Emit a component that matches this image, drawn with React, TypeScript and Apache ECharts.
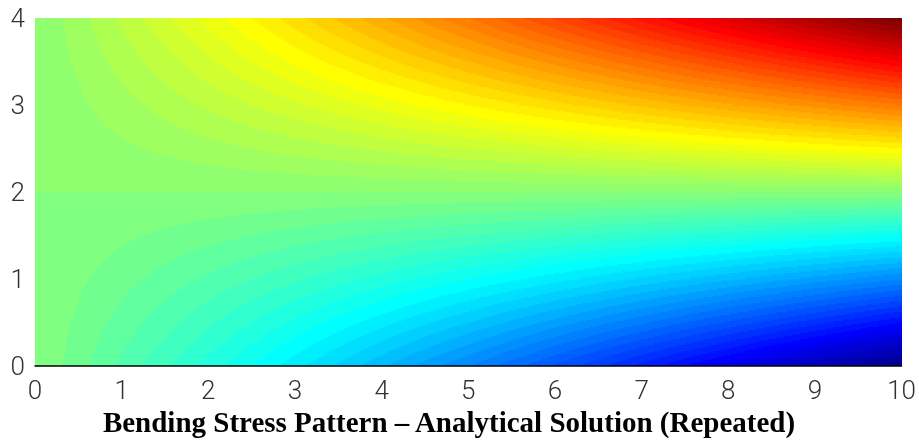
import React, { useEffect, useRef } from "react";
import * as echarts from "echarts";

// Grid nodes (beam length x, beam depth y) and stress values
const X_NODES = [0, 1, 2, 3, 4, 5, 6, 7, 8, 9, 10];
const Y_NODES = [0, 1, 2, 3, 4];
// rows: y = 0, 1, 2, 3, 4 ; columns: x = 0..10
const STRESS_Y0 = [0, -2, -4, -6, -8, -10, -12, -14, -16, -18, -20];
const STRESS_Y1 = [0, -1, -2, -3, -4, -5, -6, -7, -8, -9, -10];
const STRESS_Y2 = [0, 0, 0, 0, 0, 0, 0, 0, 0, 0, 0];
const STRESS_Y3 = [0, 1, 2, 3, 4, 5, 6, 7, 8, 9, 10];
const STRESS_Y4 = [0, 2, 4, 6, 8, 10, 12, 14, 16, 18, 20];
const STRESS = [STRESS_Y0, STRESS_Y1, STRESS_Y2, STRESS_Y3, STRESS_Y4];

const X_TICKS = ["0", "1", "2", "3", "4", "5", "6", "7", "8", "9", "10"];
const Y_TICKS = ["0", "1", "2", "3", "4"];
const TITLE = "Bending Stress Pattern \u2013 Analytical Solution (Repeated)";

const V_MIN = -20;
const V_MAX = 20;
const N_LEVELS = 64;

function jet64(k: number): string {
  const n = k + 1;
  let r = 0, g = 0, b = 0;
  if (n <= 24) r = 0; else if (n <= 40) r = (n - 24) / 16; else if (n <= 56) r = 1; else r = 1 - (n - 56) / 16;
  if (n <= 8) g = 0; else if (n <= 24) g = (n - 8) / 16; else if (n <= 40) g = 1; else if (n <= 56) g = 1 - (n - 40) / 16; else g = 0;
  if (n <= 8) b = (n + 8) / 16; else if (n <= 24) b = 1; else if (n <= 40) b = 1 - (n - 24) / 16; else b = 0;
  const c = (v: number) => Math.round(Math.max(0, Math.min(1, v)) * 255);
  return `rgb(${c(r)},${c(g)},${c(b)})`;
}
const PALETTE = Array.from({ length: N_LEVELS }, (_, k) => jet64(k));

function levelOf(v: number): number {
  let idx = Math.floor(((v - V_MIN) / (V_MAX - V_MIN)) * N_LEVELS);
  if (idx < 0) idx = 0;
  if (idx > N_LEVELS - 1) idx = N_LEVELS - 1;
  return idx;
}

export default function App() {
  const ref = useRef<HTMLDivElement>(null);
  useEffect(() => {
    if (!ref.current) return;
    const chart = echarts.init(ref.current, null, { renderer: "svg" });

    const cells: number[][] = [];
    for (let j = 0; j < Y_NODES.length - 1; j++) {
      for (let i = 0; i < X_NODES.length - 1; i++) {
        cells.push([
          X_NODES[i], Y_NODES[j], X_NODES[i + 1], Y_NODES[j + 1],
          STRESS[j][i], STRESS[j][i + 1], STRESS[j + 1][i], STRESS[j + 1][i + 1],
        ]);
      }
    }

    const renderItem = (params: any, api: any) => {
      const x0 = api.value(0), y0 = api.value(1), x1 = api.value(2), y1 = api.value(3);
      const vBL = api.value(4), vBR = api.value(5), vTL = api.value(6), vTR = api.value(7);
      const pBL = api.coord([x0, y0]);
      const pTR = api.coord([x1, y1]);
      const left = pBL[0], right = pTR[0], top = pTR[1], bottom = pBL[1];
      const w = right - left, h = bottom - top;
      const nRows = Math.max(1, Math.round(h / 1.5));
      const nCols = Math.max(1, Math.round(w));
      const rh = h / nRows, cw = w / nCols;
      const children: any[] = [];
      for (let r = 0; r < nRows; r++) {
        const yTop = top + r * rh;
        const t = (bottom - (yTop + rh / 2)) / h;
        const vl = vBL + (vTL - vBL) * t;
        const vr = vBR + (vTR - vBR) * t;
        let runStart = 0;
        let runLvl = levelOf(vl + (vr - vl) * (0.5 / nCols));
        for (let c = 1; c <= nCols; c++) {
          const lvl = c < nCols ? levelOf(vl + (vr - vl) * ((c + 0.5) / nCols)) : -1;
          if (lvl !== runLvl) {
            children.push({
              type: "rect",
              shape: { x: left + runStart * cw, y: yTop, width: (c - runStart) * cw + 0.6, height: rh + 0.6 },
              style: { fill: PALETTE[runLvl] },
              silent: true,
            });
            runStart = c;
            runLvl = lvl;
          }
        }
      }
      return { type: "group", children };
    };

    const labelStyle = {
      color: "#333",
      fontFamily: "Roboto",
      fontWeight: 300,
      fontSize: 26,
    };

    chart.setOption({
      animation: false,
      grid: { left: 35, right: 16, top: 18, bottom: 74, containLabel: false },
      xAxis: {
        type: "value",
        min: 0,
        max: 10,
        interval: 1,
        axisLine: { show: true, onZero: false, lineStyle: { color: "#000", width: 1.5 } },
        axisTick: { show: false },
        splitLine: { show: false },
        axisLabel: {
          ...labelStyle,
          margin: 11,
          formatter: (v: number) => X_TICKS[Math.round(v)] ?? "",
        },
        z: 10,
      },
      yAxis: {
        type: "value",
        min: 0,
        max: 4,
        interval: 1,
        axisLine: { show: false },
        axisTick: { show: false },
        splitLine: { show: false },
        axisLabel: {
          ...labelStyle,
          margin: 10,
          formatter: (v: number) => Y_TICKS[Math.round(v)] ?? "",
        },
      },
      graphic: [
        {
          type: "text",
          x: 449,
          y: 422,
          style: {
            text: TITLE,
            fontFamily: "Liberation Serif",
            fontWeight: "bold",
            fontSize: 29,
            fill: "#000",
            align: "center",
            verticalAlign: "middle",
          },
          silent: true,
        },
      ],
      series: [
        {
          type: "custom",
          coordinateSystem: "cartesian2d",
          renderItem,
          data: cells,
          encode: { x: [0, 2], y: [1, 3] },
          silent: true,
          clip: true,
        },
      ],
    });
    return () => chart.dispose();
  }, []);
  return (
    <div
      ref={ref}
      style={{ position: "fixed", left: 0, top: 0, width: 919, height: 440 }}
    />
  );
}
